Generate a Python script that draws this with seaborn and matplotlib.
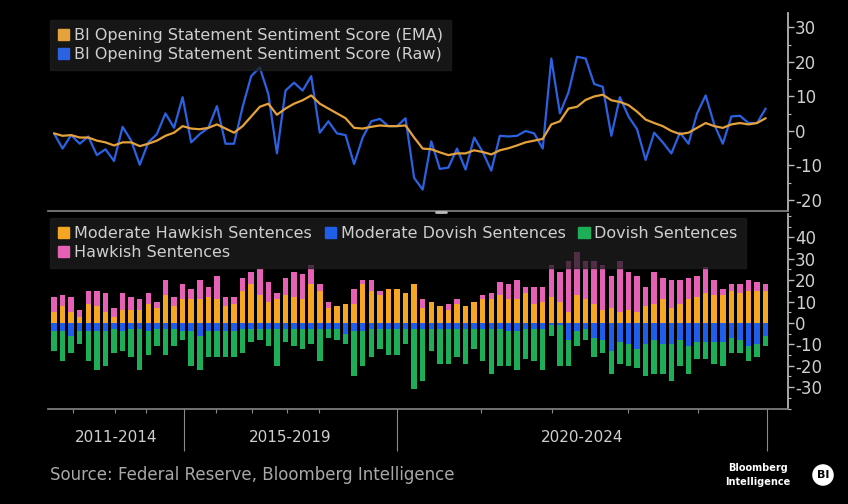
import numpy as np
import pandas as pd
import seaborn as sns
import matplotlib.pyplot as plt
from matplotlib.patches import Patch
from matplotlib.lines import Line2D
from matplotlib.ticker import MultipleLocator, FixedLocator
from matplotlib.transforms import blended_transform_factory

# Sentiment score per FOMC opening statement (top panel)
ema_score = [-0.7, -1.4, -1.2, -1.9, -1.9, -2.8, -3.3, -4.2, -3.3, -3.3,
             -4.4, -3.7, -2.8, -1.4, -0.5, 1.4, 0.7, 0.5, 0.9, 1.9,
             0.7, -0.5, 1.4, 4.2, 7.0, 7.9, 4.7, 6.5, 7.9, 8.9,
             10.3, 7.9, 6.5, 5.1, 3.7, 0.9, 0.7, 1.2, 1.6, 1.4,
             1.4, 1.6, -1.9, -5.1, -5.3, -6.2, -7.0, -6.5, -6.5, -5.6,
             -6.1, -6.8, -5.6, -5.0, -4.2, -3.3, -2.8, -2.3, 1.9, 2.8,
             6.5, 7.0, 9.0, 10.0, 10.5, 8.9, 8.4, 7.5, 5.6, 3.3,
             2.3, 1.4, 0.0, -0.9, -0.5, 0.9, 2.3, 1.4, 0.9, 1.9,
             2.3, 1.9, 2.3, 3.7]
raw_score = [-0.7, -5.1, -1.2, -3.7, -1.6, -7.0, -5.3, -8.7, 1.2, -2.8,
             -9.8, -3.3, -0.9, 5.1, 0.9, 9.8, -3.3, -0.9, 0.9, 7.2,
             -3.7, -3.7, 7.0, 15.9, 18.4, 10.7, -6.5, 11.7, 14.0, 11.7,
             15.9, -0.5, 2.8, -0.7, -1.2, -9.6, -1.9, 2.8, 3.5, 1.4,
             1.4, 3.7, -13.6, -17.0, -3.0, -11.0, -10.6, -5.1, -11.2, -1.9,
             -6.1, -11.5, -1.4, -1.6, -1.4, 0.0, -0.7, -5.1, 21.0, 5.1,
             11.2, 21.5, 21.0, 13.6, 12.8, -1.4, 9.8, 4.2, 0.5, -8.4,
             -0.5, -3.3, -6.5, -0.5, -3.7, 5.1, 10.3, 1.9, -3.7, 4.2,
             4.4, 2.3, 2.3, 6.5]

# Sentence counts per opening statement (bottom panel)
moderate_hawkish = [5, 8, 5, 3, 9, 8, 5, 3, 6, 6, 6, 9, 7, 13, 8, 11, 11, 11, 12, 11,
                    8, 9, 15, 18, 13, 10, 11, 13, 12, 11, 18, 15, 7, 8, 9, 9, 18, 15, 13, 16,
                    16, 14, 18, 7, 10, 8, 6, 9, 8, 10, 11, 11, 13, 11, 11, 14, 9, 10, 12, 10,
                    5, 13, 11, 9, 6, 7, 5, 6, 5, 8, 9, 11, 7, 9, 11, 12, 14, 13, 13, 15,
                    14, 15, 15, 15]
hawkish = [7, 5, 7, 3, 6, 7, 9, 4, 8, 6, 5, 5, 3, 7, 4, 7, 5, 9, 5, 11,
           4, 3, 6, 6, 12, 9, 3, 8, 12, 12, 9, 3, 3, 0, 0, 7, 2, 5, 2, 0,
           0, 0, 0, 4, 0, 0, 3, 2, 0, 0, 2, 3, 6, 7, 9, 3, 8, 7, 15, 14,
           24, 20, 18, 20, 21, 15, 24, 18, 17, 9, 15, 10, 13, 11, 10, 10, 12, 7, 3, 3,
           4, 5, 4, 3]
moderate_dovish = [4, 4, 6, 4, 4, 4, 4, 3, 4, 3, 3, 4, 3, 3, 3, 4, 4, 6, 4, 4,
                   4, 4, 3, 3, 3, 3, 3, 3, 3, 3, 3, 3, 3, 3, 5, 4, 4, 3, 3, 3,
                   3, 3, 3, 3, 3, 3, 3, 3, 3, 3, 3, 3, 3, 4, 4, 3, 3, 3, 1, 1,
                   8, 4, 3, 7, 8, 13, 9, 10, 12, 10, 8, 10, 10, 8, 11, 9, 9, 9, 9, 7,
                   8, 11, 10, 6]
dovish = [9, 14, 8, 6, 14, 18, 16, 11, 9, 13, 19, 11, 8, 12, 8, 4, 16, 16, 12, 12,
          12, 12, 11, 6, 5, 8, 17, 6, 8, 9, 7, 15, 4, 5, 5, 21, 16, 13, 9, 12,
          12, 7, 28, 24, 10, 16, 16, 13, 16, 9, 15, 21, 17, 16, 18, 14, 15, 19, 5, 19,
          12, 7, 5, 9, 6, 11, 10, 10, 9, 15, 16, 14, 17, 12, 13, 8, 8, 10, 11, 7,
          6, 7, 6, 5]

period_labels = ['2011-2014', '2015-2019', '2020-2024']

# colours
c_ema = '#e5a23a'
c_raw = '#2a62e2'
c_mod_hawk = '#f5a623'
c_hawk = '#e660b6'
c_mod_dov = '#1f5ee8'
c_dov = '#1eae58'
txt = '#cfcfcf'

sns.set_theme(style="dark", rc={'axes.facecolor': 'black', 'figure.facecolor': 'black',
                                'axes.edgecolor': '#999999', 'axes.grid': False})
plt.rcParams['font.family'] = ['DejaVu Sans']

idx = np.arange(len(raw_score))
mh = np.array(moderate_hawkish)
hk = np.array(hawkish)
md = np.array(moderate_dovish)
dv = np.array(dovish)

fig = plt.figure(figsize=(8.48, 5.04), dpi=100)
ax1 = fig.add_axes([0.0566, 0.5813, 0.8726, 0.393])
ax2 = fig.add_axes([0.0566, 0.1885, 0.8726, 0.387])

# top panel: lines
sns.lineplot(x=idx, y=raw_score, color=c_raw, linewidth=1.6, ax=ax1)
sns.lineplot(x=idx, y=ema_score, color=c_ema, linewidth=1.6, ax=ax1)
ax1.set_ylim(-23.2, 34.2)

leg_kw = dict(loc='upper left', fontsize=11.5, handlelength=0.7, handleheight=0.7,
              handletextpad=0.3, labelspacing=0.25, borderpad=0.5, borderaxespad=0,
              frameon=True, fancybox=False, facecolor='#1e1e1e', edgecolor='#1e1e1e',
              framealpha=0.75, labelcolor=txt)

top_handles = [Patch(color=c_ema, label='BI Opening Statement Sentiment Score (EMA)'),
               Patch(color=c_raw, label='BI Opening Statement Sentiment Score (Raw)')]
ax1.legend(handles=top_handles, bbox_to_anchor=(0.003, 0.965), **leg_kw)

# bottom panel: stacked bars (totals first, inner layer drawn over)
bar_kw = dict(width=0.64, saturation=1, errorbar=None, linewidth=0, edgecolor='none', ax=ax2)
sns.barplot(x=idx, y=mh + hk, color=c_hawk, **bar_kw)
sns.barplot(x=idx, y=mh, color=c_mod_hawk, **bar_kw)
sns.barplot(x=idx, y=-(md + dv), color=c_dov, **bar_kw)
sns.barplot(x=idx, y=-md, color=c_mod_dov, **bar_kw)
ax2.set_ylim(-40.2, 50.9)

bot_handles = [Patch(color=c_mod_hawk, label='Moderate Hawkish Sentences'),
               Patch(color=c_hawk, label='Hawkish Sentences'),
               Patch(color=c_mod_dov, label='Moderate Dovish Sentences'),
               Patch(color=c_dov, label='Dovish Sentences')]
ax2.legend(handles=bot_handles, ncol=3, columnspacing=0.8,
           bbox_to_anchor=(0.003, 0.98), **leg_kw)

# shared styling
for ax in (ax1, ax2):
    ax.set_xlim(-0.7, 85.6)
    ax.set_xlabel('')
    ax.set_ylabel('')
    ax.yaxis.tick_right()
    ax.yaxis.set_minor_locator(MultipleLocator(5))
    ax.tick_params(axis='y', which='major', colors='#bbbbbb', labelcolor=txt, labelsize=12,
                   direction='out', length=4, width=1, pad=1, right=True, left=False)
    ax.tick_params(axis='y', which='minor', colors='#bbbbbb', length=2, width=0.8,
                   right=True, left=False)
    ax.yaxis.set_major_formatter(plt.FuncFormatter(lambda v, p: f'{int(v)}'))
    for s in ('left', 'top'):
        ax.spines[s].set_visible(False)
    ax.spines['right'].set_color('#bbbbbb')
    ax.spines['bottom'].set_color('#808080')

ax1.set_xticks([])
ax1.yaxis.set_major_locator(FixedLocator([-20, -10, 0, 10, 20, 30]))
ax2.yaxis.set_major_locator(FixedLocator([-30, -20, -10, 0, 10, 20, 30, 40]))

# period separators and year ticks on the bottom axis
separators = [15.2, 40.0, 83.2]
year_ticks = [2.2, 7.1, 10.7, 18.9, 23.1, 27.2, 30.9, 49.8, 58.1, 66.9, 75.1]
ax2.xaxis.set_major_locator(FixedLocator(separators))
ax2.xaxis.set_minor_locator(FixedLocator(year_ticks))
ax2.tick_params(axis='x', which='major', length=30, width=0.8, colors='#8a8a8a',
                labelbottom=False, bottom=True, direction='out')
ax2.tick_params(axis='x', which='minor', length=3, width=0.8, colors='#8a8a8a', bottom=True)
trans = blended_transform_factory(ax2.transData, ax2.transAxes)
bounds = [-0.7] + separators
for i, lab in enumerate(period_labels):
    ax2.text((bounds[i] + bounds[i + 1]) / 2, -0.144, lab, transform=trans, ha='center',
             va='center', fontsize=11, color=txt)

# divider handle
fig.add_artist(Line2D([436 / 848, 446 / 848], [1 - 212 / 504] * 2, color='#bbbbbb', lw=2))

fig.text(50 / 848, 1 - 475 / 504, 'Source: Federal Reserve, Bloomberg Intelligence',
         fontsize=12, color='#a8a8a8', va='center', ha='left')
fig.text(758 / 848, 1 - 468 / 504, 'Bloomberg', fontsize=7, fontweight='bold',
         color='white', va='center', ha='center')
fig.text(758 / 848, 1 - 482 / 504, 'Intelligence', fontsize=7, fontweight='bold',
         color='white', va='center', ha='center')
fig.text(823 / 848, 1 - 475 / 504, 'BI', fontsize=8, fontweight='bold', color='black',
         va='center', ha='center',
         bbox=dict(boxstyle='circle,pad=0.35', fc='white', ec='white'))

plt.savefig('out.png', dpi=100, facecolor='black')
